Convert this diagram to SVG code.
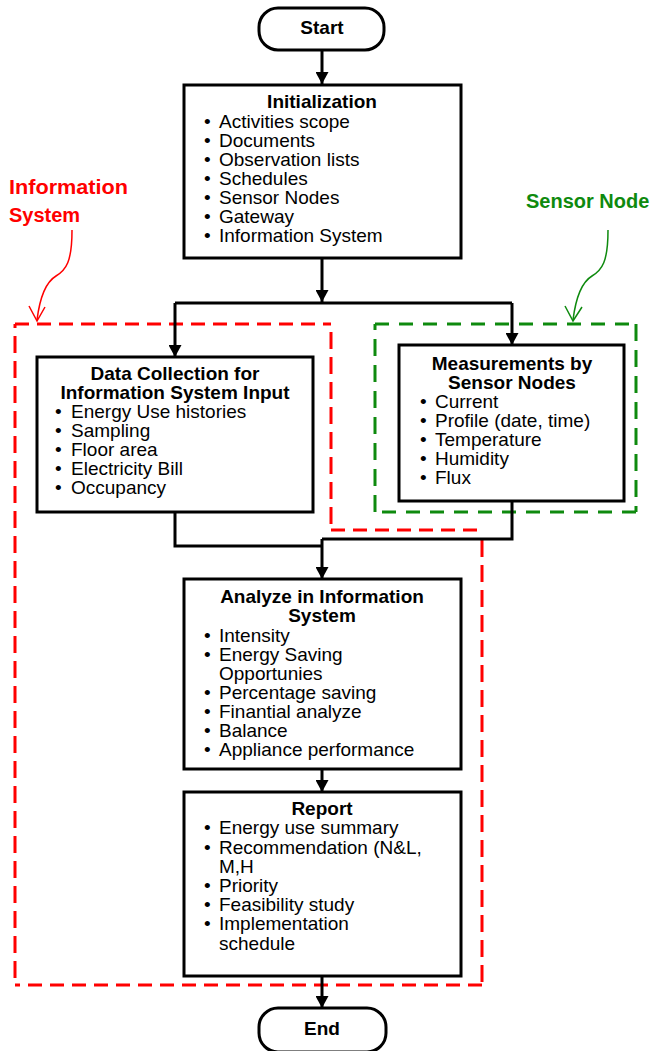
<svg xmlns="http://www.w3.org/2000/svg" width="652" height="1051" viewBox="0 0 652 1051">
<style>
.box{fill:#fff;stroke:#000;stroke-width:3}
.t{font-family:"Liberation Sans",Arial,sans-serif;font-size:19px;fill:#000}
.b{font-weight:bold}
.c{text-anchor:middle}
.conn{fill:none;stroke:#000;stroke-width:3}
.lab{font-family:"Liberation Sans",Arial,sans-serif;font-size:20px;font-weight:bold}
.rh{fill:none;stroke:#ff0000;stroke-width:3;stroke-dasharray:14,8}
.rv{fill:none;stroke:#ff0000;stroke-width:3;stroke-dasharray:17,8}
.gh{fill:none;stroke:#0e8a0e;stroke-width:3;stroke-dasharray:14,10}
.gv{fill:none;stroke:#0e8a0e;stroke-width:3;stroke-dasharray:17,9}
</style>
<defs>
<marker id="ah" markerUnits="userSpaceOnUse" markerWidth="13" markerHeight="13" refX="12" refY="6.5" orient="auto">
<path d="M0,0 L12,6.5 L0,13 z" fill="#000"/>
</marker>
</defs>
<rect width="652" height="1051" fill="#fff"/>

<g id="information-system-group">
<path class="rh" d="M15,324 H331"/>
<path class="rv" d="M331,332 V530"/>
<path class="rh" d="M331,530 H482"/>
<path class="rv" d="M482,540 V985"/>
<path class="rh" d="M482,985 H15"/>
<path class="rv" d="M15,978 V324"/>
</g>
<g id="sensor-node-group">
<path class="gh" d="M375,324 H636"/>
<path class="gv" d="M636,324 V512"/>
<path class="gh" d="M636,512 H375"/>
<path class="gv" d="M375,512 V324"/>
</g>

<g id="connectors">
<path class="conn" d="M322,50 V84" marker-end="url(#ah)"/>
<path class="conn" d="M322,258 V302" marker-end="url(#ah)"/>
<path class="conn" d="M175,303 H512"/>
<path class="conn" d="M175,303 V357" marker-end="url(#ah)"/>
<path class="conn" d="M512,303 V345" marker-end="url(#ah)"/>
<path class="conn" d="M175,512 V546 H322"/>
<path class="conn" d="M512,501 V539 H322"/>
<path class="conn" d="M322,539 V579" marker-end="url(#ah)"/>
<path class="conn" d="M322,769 V792" marker-end="url(#ah)"/>
<path class="conn" d="M322,976 V1008" marker-end="url(#ah)"/>
</g>

<g id="start">
<rect class="box" x="259" y="8" width="125" height="42" rx="19"/>
<text class="t b c" x="322" y="34">Start</text>
</g>

<g id="init">
<rect class="box" x="184" y="85" width="277" height="173"/>
<text class="t b c" x="322" y="108">Initialization</text>
<g class="t">
<text x="204" y="128">•</text><text x="219" y="128">Activities scope</text>
<text x="204" y="147">•</text><text x="219" y="147">Documents</text>
<text x="204" y="166">•</text><text x="219" y="166">Observation lists</text>
<text x="204" y="185">•</text><text x="219" y="185">Schedules</text>
<text x="204" y="204">•</text><text x="219" y="204">Sensor Nodes</text>
<text x="204" y="223">•</text><text x="219" y="223">Gateway</text>
<text x="204" y="242">•</text><text x="219" y="242">Information System</text>
</g>
</g>

<g id="datacollection">
<rect class="box" x="37" y="357" width="276" height="155"/>
<text class="t b c" x="175" y="380">Data Collection for</text>
<text class="t b c" x="175" y="399">Information System Input</text>
<g class="t">
<text x="55" y="418">•</text><text x="71" y="418">Energy Use histories</text>
<text x="55" y="437">•</text><text x="71" y="437">Sampling</text>
<text x="55" y="456">•</text><text x="71" y="456">Floor area</text>
<text x="55" y="475">•</text><text x="71" y="475">Electricity Bill</text>
<text x="55" y="494">•</text><text x="71" y="494">Occupancy</text>
</g>
</g>

<g id="measurements">
<rect class="box" x="399" y="345" width="225" height="156"/>
<text class="t b c" x="512" y="370">Measurements by</text>
<text class="t b c" x="512" y="389">Sensor Nodes</text>
<g class="t">
<text x="420" y="408">•</text><text x="435" y="408">Current</text>
<text x="420" y="427">•</text><text x="435" y="427">Profile (date, time)</text>
<text x="420" y="446">•</text><text x="435" y="446">Temperature</text>
<text x="420" y="465">•</text><text x="435" y="465">Humidity</text>
<text x="420" y="484">•</text><text x="435" y="484">Flux</text>
</g>
</g>

<g id="analyze">
<rect class="box" x="184" y="579" width="277" height="190"/>
<text class="t b c" x="322" y="603">Analyze in Information</text>
<text class="t b c" x="322" y="622">System</text>
<g class="t">
<text x="204" y="642">•</text><text x="219" y="642">Intensity</text>
<text x="204" y="661">•</text><text x="219" y="661">Energy Saving</text>
<text x="219" y="680">Opportunies</text>
<text x="204" y="699">•</text><text x="219" y="699">Percentage saving</text>
<text x="204" y="718">•</text><text x="219" y="718">Finantial analyze</text>
<text x="204" y="737">•</text><text x="219" y="737">Balance</text>
<text x="204" y="756">•</text><text x="219" y="756">Appliance performance</text>
</g>
</g>

<g id="report">
<rect class="box" x="184" y="792" width="277" height="184"/>
<text class="t b c" x="322" y="815">Report</text>
<g class="t">
<text x="204" y="834">•</text><text x="219" y="834">Energy use summary</text>
<text x="204" y="854">•</text><text x="219" y="854">Recommendation (N&amp;L,</text>
<text x="219" y="873">M,H</text>
<text x="204" y="892">•</text><text x="219" y="892">Priority</text>
<text x="204" y="911">•</text><text x="219" y="911">Feasibility study</text>
<text x="204" y="930">•</text><text x="219" y="930">Implementation</text>
<text x="219" y="950">schedule</text>
</g>
</g>

<g id="end">
<rect class="box" x="259" y="1008" width="127" height="44" rx="19"/>
<text class="t b c" x="322" y="1035">End</text>
</g>

<g id="label-information-system">
<text class="lab" x="9" y="194" fill="#ff0000" textLength="119" lengthAdjust="spacingAndGlyphs">Information</text>
<text class="lab" x="9" y="222" fill="#ff0000">System</text>
<path d="M72,230 C72,262 66,270 56,276 C46,282 40,296 37,320" fill="none" stroke="#ff0000" stroke-width="1.5"/>
<path d="M29,306 L37,321 L45,307" fill="none" stroke="#ff0000" stroke-width="1.5"/>
</g>

<g id="label-sensor-node">
<text class="lab" x="526" y="208" fill="#0e8a0e">Sensor Node</text>
<path d="M608,230 C608,262 602,270 592,276 C582,282 576,296 573,320" fill="none" stroke="#0e8a0e" stroke-width="1.5"/>
<path d="M565,306 L573,321 L582,307" fill="none" stroke="#0e8a0e" stroke-width="1.5"/>
</g>
</svg>
